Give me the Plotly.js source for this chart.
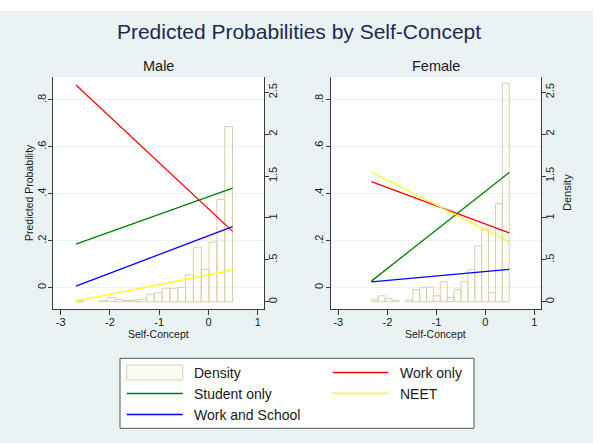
<!DOCTYPE html>
<html>
<head>
<meta charset="utf-8">
<script src="https://cdn.plot.ly/plotly-3.0.1.min.js"></script>
<style>
  html, body { margin: 0; padding: 0; background: #ffffff; width: 598px; height: 443px; overflow: hidden; }
  #chart { position: absolute; left: 0; top: 11px; width: 593px; height: 432px; }
</style>
</head>
<body>
<div id="chart"></div>
<script>
// ---------------- data ----------------
const chartTitle = "Predicted Probabilities by Self-Concept";
const panelNames = ["Male", "Female"];
const seriesNames = ["Density", "Work only", "Student only", "NEET", "Work and School"];
const xTitle = "Self-Concept";
const probTitle = "Predicted Probability";
const densTitle = "Density";

const xTickVals = [-3, -2, -1, 0, 1];
const xTickText = ["-3", "-2", "-1", "0", "1"];
const probTickVals = [0, 0.2, 0.4, 0.6, 0.8];
const probTickText = ["0", ".2", ".4", ".6", ".8"];
const densTickVals = [0, 0.5, 1, 1.5, 2, 2.5];
const densTickText = ["0", ".5", "1", "1.5", "2", "2.5"];

// Male histogram (bin centres, density)
const maleBinWidth = 0.159;
const maleBinCenters = [-2.611, -2.452, -2.293, -2.134, -1.975, -1.816, -1.657, -1.498, -1.339, -1.180,
                        -1.021, -0.862, -0.703, -0.544, -0.385, -0.226, -0.067, 0.092, 0.251, 0.410];
const maleDensity = [0.02, null, null, 0.012, 0.052, 0.03, 0.015, 0.02, 0.03, 0.088,
                     0.107, 0.16, 0.16, 0.17, 0.32, 0.65, 0.386, 0.71, 1.22, 2.09];

// Female histogram
const femaleBinWidth = 0.1406;
const femaleBinCenters = [-2.256, -2.115, -1.974, -1.834, -1.693, -1.553, -1.412, -1.271, -1.131, -0.990,
                          -0.850, -0.709, -0.569, -0.428, -0.287, -0.147, -0.006, 0.134, 0.275, 0.415];
const femaleDensity = [0.024, 0.07, 0.036, 0.018, null, 0.022, 0.146, 0.167, 0.175, 0.07,
                       0.24, 0.052, 0.146, 0.24, 0.383, 0.666, 0.865, 0.108, 1.172, 2.608];

// Predicted probability lines (endpoints of linear predictions)
const maleX = [-2.69, 0.49];
const maleWork = [0.864, 0.240];
const maleStudent = [0.186, 0.424];
const maleNEET = [-0.057, 0.075];
const maleWorkSchool = [0.007, 0.260];

const femaleX = [-2.326, 0.486];
const femaleWork = [0.452, 0.234];
const femaleStudent = [0.028, 0.491];
const femaleNEET = [0.492, 0.196];
const femaleWorkSchool = [0.025, 0.078];

// ---------------- styles ----------------
const W = 593, H = 432;
const FONT = "Liberation Sans, Arial, Helvetica, sans-serif";
const BG = "rgb(234,242,243)";
const AXC = "#3a3a3a";
const TXT = "#1a1a1a";
const barLine = "rgb(214,210,168)";
const colors = { work: "rgb(255,0,0)", student: "rgb(0,128,0)", neet: "rgb(255,255,0)", ws: "rgb(0,0,255)" };
const LW = 1.3;

const px = v => v / W;
const py = v => (H - (v - 11)) / H;   // page y -> paper y

const xRange = [-3.156, 1.128];
const probRange = [-0.0908, 0.898];
const densRange = [-0.087, 2.683];
const yDom = [py(309), py(77)];
const leftDom = [px(53), px(264)];
const rightDom = [px(330.7), px(540.7)];

function bars(xs, ys, w, xa, ya) {
  return { type: "bar", x: xs, y: ys, width: w, xaxis: xa, yaxis: ya, hoverinfo: "skip",
           marker: { color: "rgba(255,255,255,0)", line: { color: barLine, width: 1 } }, showlegend: false };
}
function line(xs, ys, c, xa, ya, name) {
  return { type: "scatter", mode: "lines", x: xs, y: ys, xaxis: xa, yaxis: ya, name: name,
           line: { color: c, width: LW }, hoverinfo: "skip", showlegend: false };
}

const data = [
  bars(maleBinCenters, maleDensity, maleBinWidth, "x", "y"),
  line(maleX, maleWork, colors.work, "x", "y2", seriesNames[1]),
  line(maleX, maleStudent, colors.student, "x", "y2", seriesNames[2]),
  line(maleX, maleNEET, colors.neet, "x", "y2", seriesNames[3]),
  line(maleX, maleWorkSchool, colors.ws, "x", "y2", seriesNames[4]),
  bars(femaleBinCenters, femaleDensity, femaleBinWidth, "x2", "y3"),
  line(femaleX, femaleWork, colors.work, "x2", "y4", seriesNames[1]),
  line(femaleX, femaleStudent, colors.student, "x2", "y4", seriesNames[2]),
  line(femaleX, femaleNEET, colors.neet, "x2", "y4", seriesNames[3]),
  line(femaleX, femaleWorkSchool, colors.ws, "x2", "y4", seriesNames[4])
];

const tickFont = { family: FONT, size: 11, color: TXT };
function xAxis(dom, anchor) {
  return { domain: dom, anchor: anchor, range: xRange, tickmode: "array", tickvals: xTickVals, ticktext: xTickText,
           ticks: "outside", ticklen: 5, tickcolor: AXC, tickwidth: 1, showline: true, linecolor: AXC, linewidth: 1,
           showgrid: false, zeroline: false, tickfont: tickFont, fixedrange: true, ticklabelstandoff: -2 };
}
function densAxis(anchor) {
  return { domain: yDom, anchor: anchor, side: "right", range: densRange, tickmode: "array",
           tickvals: densTickVals, ticktext: densTickText, tickangle: -90,
           ticks: "outside", ticklen: 4, tickcolor: AXC, showline: true, linecolor: AXC, linewidth: 1,
           showgrid: false, zeroline: false, tickfont: tickFont, fixedrange: true, ticklabelstandoff: -5 };
}
function probAxis(over, anchor) {
  return { overlaying: over, anchor: anchor, side: "left", range: probRange, tickmode: "array",
           tickvals: probTickVals, ticktext: probTickText, tickangle: -90,
           ticks: "outside", ticklen: 4, tickcolor: AXC, showline: true, linecolor: AXC, linewidth: 1,
           showgrid: true, gridcolor: BG, gridwidth: 1, zeroline: false, tickfont: tickFont, fixedrange: true,
           ticklabelstandoff: -2 };
}

const shapes = [];
const annotations = [];
// panel subtitles
annotations.push({ xref: "paper", yref: "paper", x: (leftDom[0] + leftDom[1]) / 2, y: py(66), text: panelNames[0],
  showarrow: false, xanchor: "center", yanchor: "middle", font: { family: FONT, size: 14.5, color: TXT } });
annotations.push({ xref: "paper", yref: "paper", x: (rightDom[0] + rightDom[1]) / 2, y: py(66), text: panelNames[1],
  showarrow: false, xanchor: "center", yanchor: "middle", font: { family: FONT, size: 14.5, color: TXT } });
// axis titles
[leftDom, rightDom].forEach(dom => {
  annotations.push({ xref: "paper", yref: "paper", x: (dom[0] + dom[1]) / 2, y: py(334), text: xTitle,
    showarrow: false, xanchor: "center", yanchor: "middle", font: { family: FONT, size: 10.5, color: TXT } });
});
annotations.push({ xref: "paper", yref: "paper", x: px(29), y: (yDom[0] + yDom[1]) / 2, text: probTitle, textangle: -90,
  showarrow: false, xanchor: "center", yanchor: "middle", font: { family: FONT, size: 10.5, color: TXT } });
annotations.push({ xref: "paper", yref: "paper", x: px(567), y: (yDom[0] + yDom[1]) / 2, text: densTitle, textangle: -90,
  showarrow: false, xanchor: "center", yanchor: "middle", font: { family: FONT, size: 11, color: TXT } });

// legend box
shapes.push({ type: "rect", xref: "paper", yref: "paper", x0: px(120), x1: px(474), y0: py(428.3), y1: py(358.3),
  line: { color: "#555", width: 1 }, fillcolor: "#ffffff", layer: "below" });
// density key
shapes.push({ type: "rect", xref: "paper", yref: "paper", x0: px(126.7), x1: px(182.7), y0: py(380), y1: py(365),
  line: { color: barLine, width: 1 }, fillcolor: "rgb(252,252,244)" });
const legendItems = [
  { name: seriesNames[0], col: 0, y: 373 },
  { name: seriesNames[1], col: 1, y: 372.5, c: colors.work },
  { name: seriesNames[2], col: 0, y: 393.5, c: colors.student },
  { name: seriesNames[3], col: 1, y: 393.5, c: colors.neet },
  { name: seriesNames[4], col: 0, y: 414.5, c: colors.ws }
];
const colKey = [[126.7, 182.7], [332.7, 388.3]];
const colText = [192.3, 398.3];
legendItems.forEach(it => {
  if (it.c) {
    shapes.push({ type: "line", xref: "paper", yref: "paper", x0: px(colKey[it.col][0]), x1: px(colKey[it.col][1]),
      y0: py(it.y), y1: py(it.y), line: { color: it.c, width: LW } });
  }
  annotations.push({ xref: "paper", yref: "paper", x: px(colText[it.col]), y: py(it.y), text: it.name, showarrow: false,
    xanchor: "left", yanchor: "middle", font: { family: FONT, size: 14, color: TXT } });
});

const layout = {
  width: W, height: H,
  margin: { l: 0, r: 0, t: 0, b: 0, pad: 0 },
  paper_bgcolor: BG, plot_bgcolor: "#ffffff",
  font: { family: FONT, color: TXT },
  showlegend: false,
  bargap: 0,
  title: { text: chartTitle, x: 299 / W, xanchor: "center", y: 1 - 21 / H, yanchor: "middle",
           font: { family: FONT, size: 21, color: "rgb(28,42,78)" } },
  xaxis: xAxis(leftDom, "y"),
  yaxis: densAxis("x"),
  yaxis2: probAxis("y", "x"),
  xaxis2: xAxis(rightDom, "y3"),
  yaxis3: densAxis("x2"),
  yaxis4: probAxis("y3", "x2"),
  shapes: shapes,
  annotations: annotations
};

Plotly.newPlot("chart", data, layout, { staticPlot: true, displayModeBar: false });
</script>
</body>
</html>
